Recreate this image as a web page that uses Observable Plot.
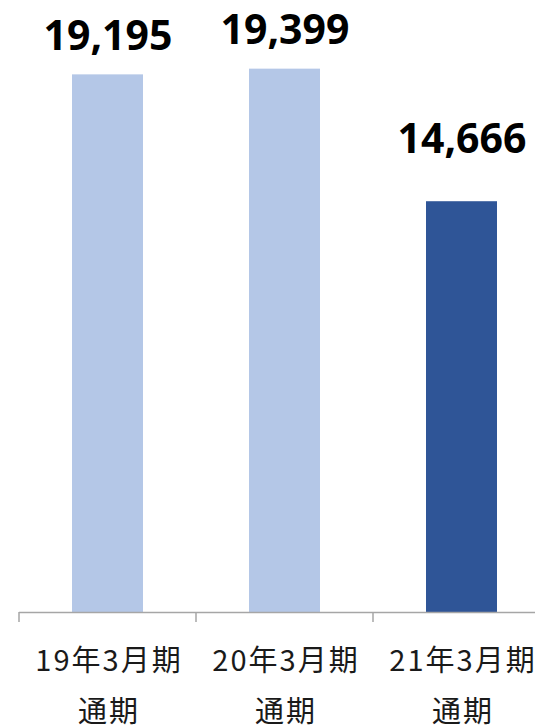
<!DOCTYPE html>
<html>
<head>
<meta charset="utf-8">
<script src="https://cdn.jsdelivr.net/npm/d3@7"></script>
<script src="https://cdn.jsdelivr.net/npm/@observablehq/plot@0.6"></script>
<style>
  html, body { margin: 0; padding: 0; background: #fff; }
  #chart svg { display: block; }
</style>
</head>
<body>
<div id="chart"></div>
<script>
const periods = ["19年3月期", "20年3月期", "21年3月期"];
const periodSuffix = "通期";
const values = [19195, 19399, 14666];
const currentPeriod = "21年3月期";

const data = periods.map((p, i) => ({period: p, value: values[i]}));

const lightBlue = "#B4C7E7";
const darkBlue = "#2F5597";
const axisGray = "#A6A6A6";
const fmt = d3.format(",");

const chart = Plot.plot({
  width: 535,
  height: 727,
  marginTop: 0,
  marginBottom: 115,
  marginLeft: 19,
  marginRight: 0,
  x: {domain: periods, range: [19, 550], paddingInner: 0.6, paddingOuter: 0.3, axis: null},
  y: {domain: [0, 21850], axis: null},
  marks: [
    Plot.barY(data, {x: "period", y: "value", fill: d => d.period === currentPeriod ? darkBlue : lightBlue}),
    Plot.ruleY([0], {stroke: axisGray, strokeWidth: 1.5}),
    Plot.text(data.filter(d => d.period !== currentPeriod), {
      x: "period", y: "value", text: d => fmt(d.value), dy: -25, lineAnchor: "bottom",
      fontSize: 41, fontWeight: "bold", fill: "#000", fontFamily: "'Noto Sans', sans-serif"
    }),
    Plot.text(data.filter(d => d.period === currentPeriod), {
      x: "period", y: "value", text: d => fmt(d.value), dy: -49, lineAnchor: "bottom",
      fontSize: 41, fontWeight: "bold", fill: "#000", fontFamily: "'Noto Sans', sans-serif"
    }),
    Plot.text(data, {
      x: "period", y: 0, text: d => d.period + "\n" + periodSuffix,
      lineAnchor: "top", dy: 22, dx: 1, lineHeight: 1.76,
      fontSize: 29, fill: "#1a1a1a", fontFamily: "'Noto Sans CJK JP', sans-serif"
    })
  ]
});

// x label letter spacing (last text mark)
const textGroups = chart.querySelectorAll('g[aria-label="text"]');
textGroups[textGroups.length - 1].style.letterSpacing = "2px";

// category-boundary tick marks drawn from the band scale
const xs = chart.scale("x");
const ys = chart.scale("y");
const gap = (xs.step - xs.bandwidth) / 2;
const base = ys.apply(0);
const bounds = periods.map(p => xs.apply(p) - gap);
bounds.push(xs.apply(periods[periods.length - 1]) + xs.bandwidth + gap);
d3.select(chart).append("g")
  .attr("stroke", axisGray).attr("stroke-width", 1.5)
  .selectAll("line").data(bounds).join("line")
  .attr("x1", d => d).attr("x2", d => d)
  .attr("y1", base).attr("y2", base + 10);

document.getElementById("chart").append(chart);
</script>
</body>
</html>
